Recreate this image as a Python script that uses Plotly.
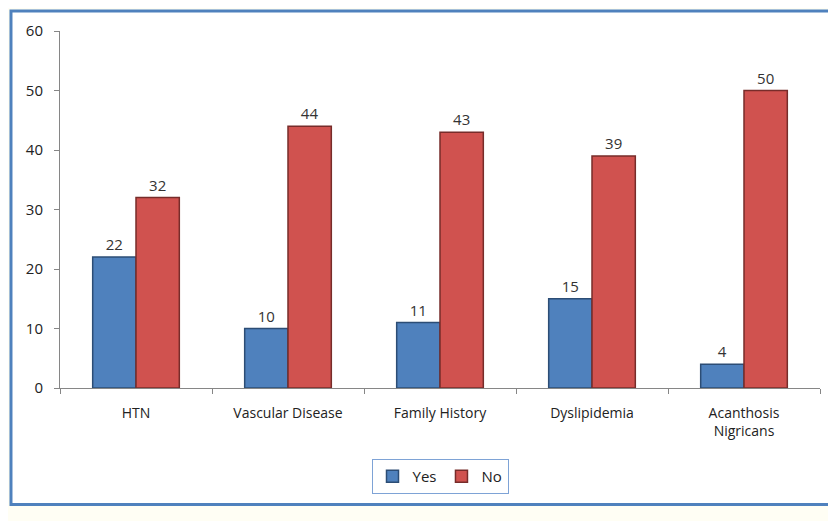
import plotly.graph_objects as go

categories = ["HTN", "Vascular Disease", "Family History", "Dyslipidemia", "Acanthosis<br>Nigricans"]
yes_values = [22, 10, 11, 15, 4]
no_values = [32, 44, 43, 39, 50]

font_family = "Open Sans, DejaVu Sans, sans-serif"

fig = go.Figure()
fig.add_trace(go.Bar(
    x=categories, y=yes_values, name="Yes",
    marker=dict(color="#4F81BD", line=dict(color="#2C4D75", width=1.5)),
    text=yes_values, textposition="outside",
    textfont=dict(size=15, color="#333333"),
))
fig.add_trace(go.Bar(
    x=categories, y=no_values, name="No",
    marker=dict(color="#D0524F", line=dict(color="#772C2A", width=1.5)),
    text=no_values, textposition="outside",
    textfont=dict(size=15, color="#333333"),
))

# blue frame around the chart area
fig.add_shape(type="rect", xref="paper", yref="paper",
              x0=-0.0645, x1=1.03, y0=-0.326, y1=1.056,
              line=dict(color="#4F81BD", width=3), fillcolor="white", layer="below")

fig.update_layout(
    width=828, height=513,
    margin=dict(l=52, r=16, t=21, b=133),
    paper_bgcolor="#FFFEF4",
    plot_bgcolor="rgba(0,0,0,0)",
    font=dict(family=font_family, size=14, color="#222222"),
    barmode="group",
    bargap=0.43,
    bargroupgap=0,
    showlegend=True,
    legend=dict(
        orientation="h", x=0.5, xanchor="center", y=-0.248, yanchor="middle",
        bordercolor="#7EA3D6", borderwidth=1, bgcolor="white",
        font=dict(size=15), itemwidth=30, traceorder="normal",
    ),
    xaxis=dict(
        showline=True, linecolor="#868686", linewidth=1,
        ticks="outside", tickson="boundaries", ticklen=5, tickcolor="#868686",
        showgrid=False, tickfont=dict(size=14), ticklabelstandoff=12,
    ),
    yaxis=dict(
        range=[0, 60], dtick=10,
        showline=True, linecolor="#868686", linewidth=1,
        ticks="outside", ticklen=5, tickcolor="#868686",
        showgrid=False, zeroline=False, tickfont=dict(size=15),
        ticklabelstandoff=8,
    ),
)

fig.write_html("out.html")
